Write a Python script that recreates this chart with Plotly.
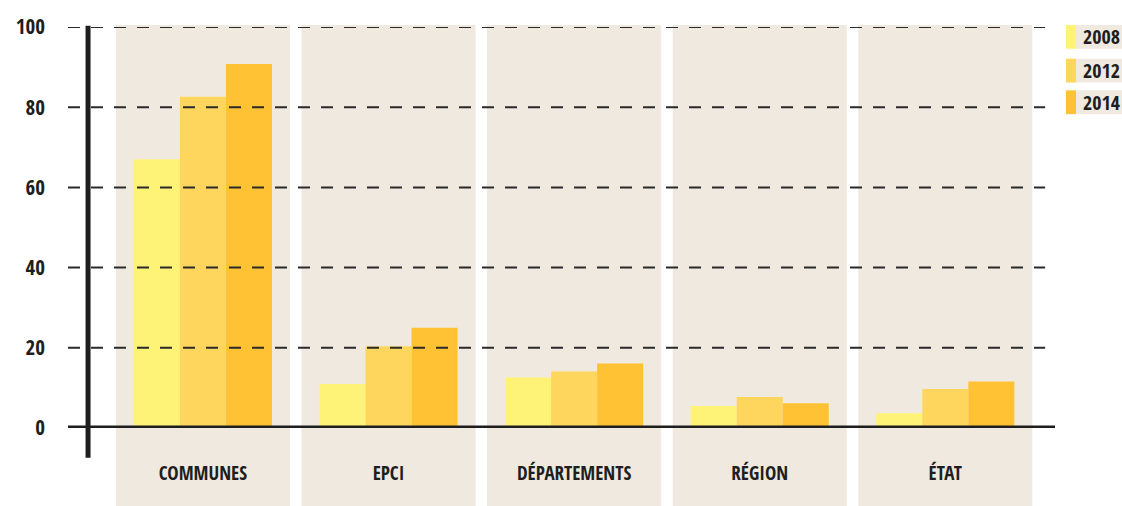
import plotly.graph_objects as go

categories = ["COMMUNES", "EPCI", "DÉPARTEMENTS", "RÉGION", "ÉTAT"]
years = ["2008", "2012", "2014"]
values_2008 = [67, 11, 12.6, 5.5, 3.7]
values_2012 = [82.6, 20.4, 14.1, 7.7, 9.7]
values_2014 = [90.8, 25, 16.1, 6.2, 11.6]
y_ticks = [0, 20, 40, 60, 80, 100]

colors = ["#fff377", "#fed65e", "#ffc235"]
panel = "#f0e9df"
ink = "#1e1e1e"
font = "Open Sans Condensed"

fig = go.Figure()
for year, vals, col in zip(years, [values_2008, values_2012, values_2014], colors):
    fig.add_trace(go.Bar(x=categories, y=vals, name=year, marker=dict(color=col, line=dict(width=0))))

shapes = []
# beige column behind each category
for i, _ in enumerate(categories):
    shapes.append(dict(type="rect", xref="x", yref="paper", x0=i - 0.469, x1=i + 0.469,
                       y0=-0.2, y1=1.005, fillcolor=panel, line=dict(width=0), layer="below"))
# dashed grid, drawn over the bars
for t in y_ticks[1:]:
    shapes.append(dict(type="line", xref="paper", yref="y", x0=0, x1=0.99, y0=t, y1=t,
                       line=dict(color="#2a2a2a", width=2, dash="12px,11px"), layer="above"))
# thick axis lines
shapes.append(dict(type="line", xref="paper", yref="y", x0=0, x1=1, y0=0, y1=0,
                   line=dict(color=ink, width=5), layer="above"))
shapes.append(dict(type="line", xref="paper", yref="paper", x0=0.0203, x1=0.0203, y0=-0.074, y1=1.003,
                   line=dict(color=ink, width=5), layer="above"))

# legend: colour strip + beige label box
annotations = []
legend_tops = [1.005, 0.921, 0.842]
for year, col, top in zip(years, colors, legend_tops):
    shapes.append(dict(type="rect", xref="paper", yref="paper", x0=1.0111, x1=1.0213,
                       y0=top - 0.0594, y1=top, fillcolor=col, line=dict(width=0)))
    shapes.append(dict(type="rect", xref="paper", yref="paper", x0=1.0213, x1=1.07,
                       y0=top - 0.0594, y1=top, fillcolor=panel, line=dict(width=0)))
    annotations.append(dict(xref="paper", yref="paper", x=1.026, y=top - 0.0297, text=year,
                            showarrow=False, xanchor="left", yanchor="middle",
                            font=dict(family=font, size=20, color=ink)))

fig.update_layout(
    width=1122, height=506,
    margin=dict(l=68, r=67, t=24, b=78),
    paper_bgcolor="white", plot_bgcolor="rgba(0,0,0,0)",
    barmode="group", bargap=0.256, bargroupgap=0,
    showlegend=False,
    font=dict(family=font, size=20, color=ink),
    shapes=shapes, annotations=annotations,
    xaxis=dict(range=[-0.727, 4.591], showgrid=False, showline=False, zeroline=False,
               ticks="", ticklabelstandoff=32, tickfont=dict(size=19)),
    yaxis=dict(range=[0, 100], tickvals=y_ticks, showgrid=False, showline=False, zeroline=False,
               ticks="", ticklabelstandoff=22, tickfont=dict(size=21)),
)

fig.write_html("out.html", config={"displayModeBar": False},
               post_script="document.body.style.margin='0px';")
